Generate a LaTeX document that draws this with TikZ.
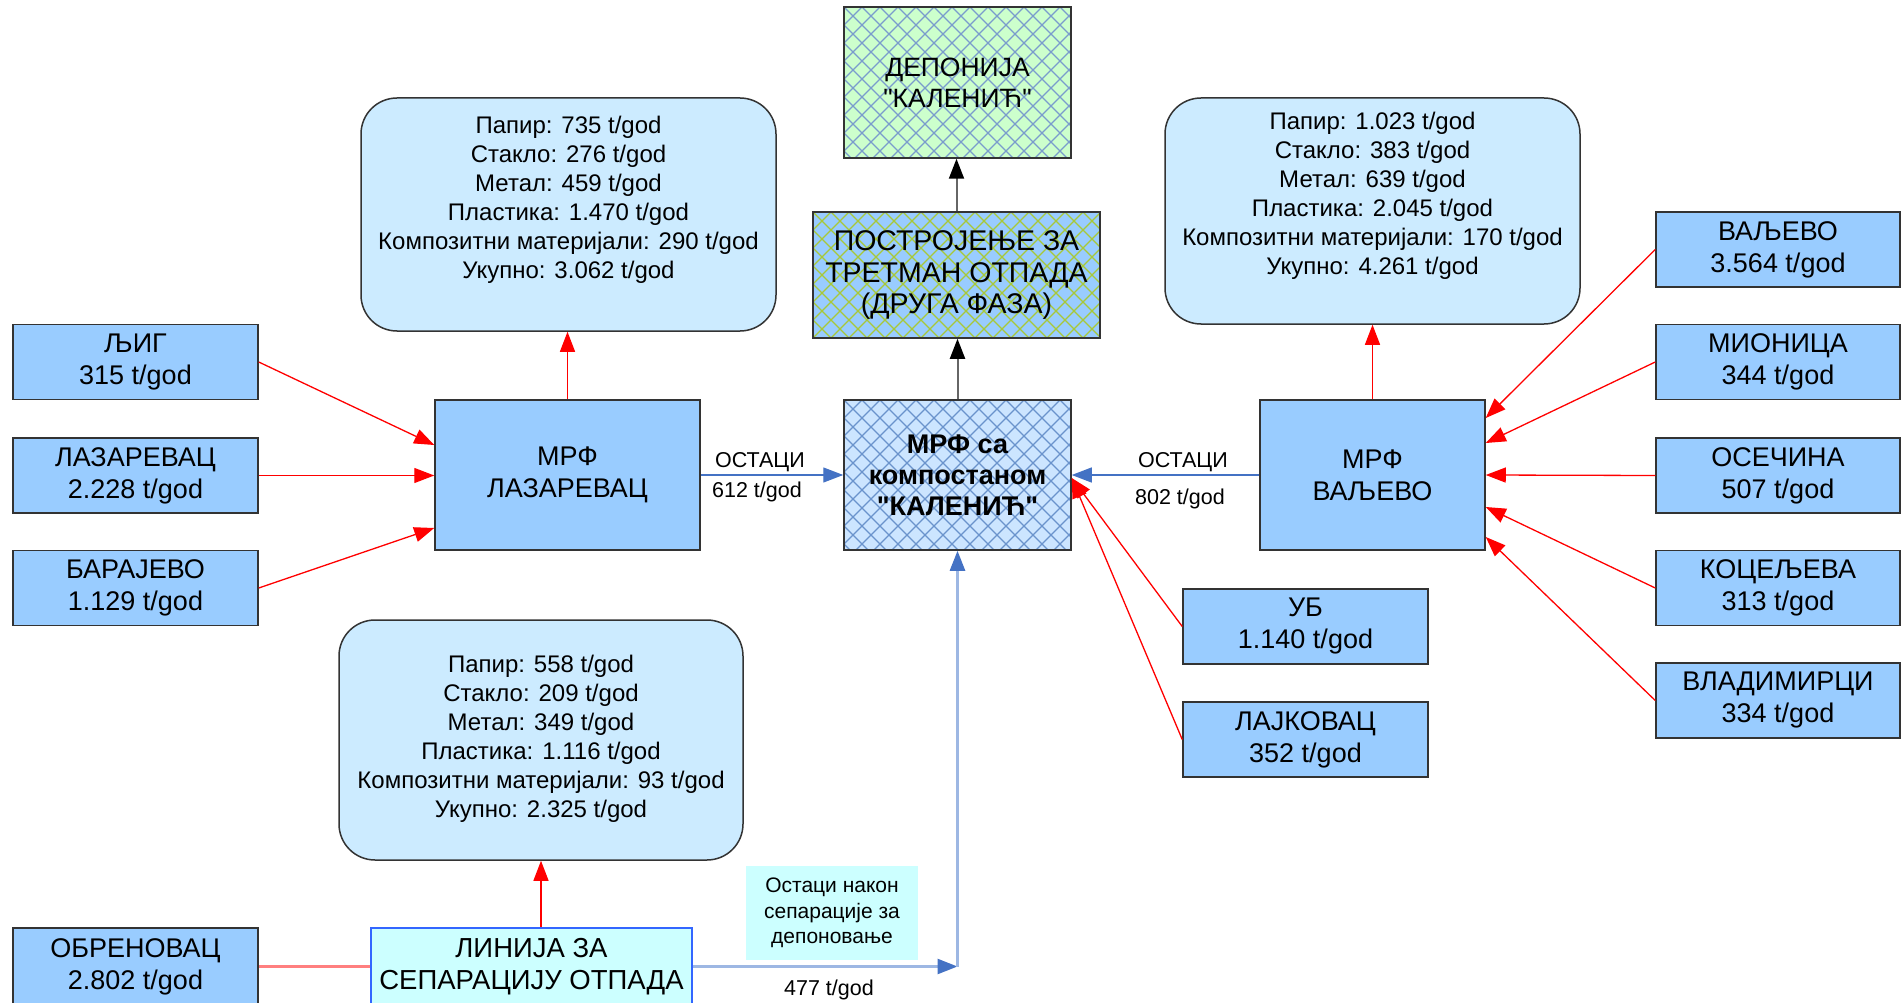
\documentclass[tikz,border=0pt]{standalone}
\usepackage{fontspec}
\setmainfont{Liberation Sans}[Ligatures=TeXOff]
\usetikzlibrary{arrows.meta,calc}

\definecolor{cityblue}{HTML}{99CCFF}
\definecolor{roundfill}{HTML}{CCEBFF}
\definecolor{boxline}{HTML}{333333}
\definecolor{centerfill}{HTML}{CCE5FF}
\definecolor{centerhatch}{HTML}{6A93CC}
\definecolor{landfill}{HTML}{CCFFCC}
\definecolor{landhatch}{HTML}{7A9CCC}
\definecolor{planthatch}{HTML}{A8C838}
\definecolor{linefill}{HTML}{CCFFFF}
\definecolor{lineborder}{HTML}{3366FF}
\definecolor{flowblue}{HTML}{4472C4}
\definecolor{paleblue}{HTML}{9DB7E3}
\definecolor{palered}{HTML}{FF7F7F}

\tikzset{
  city/.style={draw=boxline, line width=1.5pt, fill=cityblue, minimum width=245pt,
    minimum height=75pt, inner sep=0pt, align=center, font=\fontsize{27}{32}\selectfont},
  mrf/.style={city, minimum width=#1, minimum height=150pt},
  roundbox/.style={draw=boxline, line width=1.5pt, fill=roundfill, rounded corners=36pt,
    inner sep=0pt},
  stats/.style={align=center, inner sep=0pt, font=\fontsize{24}{29}\selectfont},
  hatch/.style={path picture={
    \foreach \i in {-12,...,28}{
      \draw[#1, line width=1.3pt] ([xshift=\i*18pt]path picture bounding box.north west) -- ++(300pt,-300pt);
      \draw[#1, line width=1.3pt] ([xshift=\i*18pt]path picture bounding box.north west) -- ++(-300pt,-300pt);
    }}},
  flowlabel/.style={inner sep=0pt, anchor=base, font=\fontsize{21.5}{25}\selectfont},
  tip/.style={-{Triangle[length=20pt,width=15pt,#1]}},
  redarrow/.style={draw=red, line width=1.3pt, tip={color=red}},
  bluearrow/.style={draw=flowblue, line width=1.3pt, tip={color=flowblue}},
  palearrow/.style={draw=paleblue, line width=2.5pt, tip={color=flowblue}},
  grayarrow/.style={draw=black!60, line width=2pt, tip={color=black}},
}

\begin{document}
\begin{tikzpicture}[x=1pt,y=-1pt]
\useasboundingbox (0,0) rectangle (1901,1003);

% central facilities
\node[draw=boxline, line width=1.5pt, fill=landfill, hatch=landhatch, minimum width=227pt,
  minimum height=151pt, inner sep=0pt, align=center, font=\fontsize{26.5}{31}\selectfont]
  (dep) at (957.5,82.5) {ДЕПОНИЈА\\"КАЛЕНИЋ"};
\node[draw=boxline, line width=1.5pt, fill=cityblue, hatch=planthatch, minimum width=287pt,
  minimum height=126pt, inner sep=0pt, align=center, font=\fontsize{28.5}{31.5}\selectfont]
  (post) at (956.5,275) {ПОСТРОЈЕЊЕ ЗА\\ТРЕТМАН ОТПАДА\\(ДРУГА ФАЗА)};
\node[draw=boxline, line width=1.5pt, fill=centerfill, hatch=centerhatch, minimum width=227pt,
  minimum height=150pt, inner sep=0pt, align=center, font=\bfseries\fontsize{27}{31}\selectfont]
  (cen) at (957.5,475) {МРФ са\\компостаном\\"КАЛЕНИЋ"};

% regional MRF plants
\node[mrf=265pt] (mrfL) at (567.5,475) {МРФ\\ЛАЗАРЕВАЦ};
\node[mrf=225pt] (mrfV) at (1372.5,475) {МРФ\\ВАЉЕВО};

% recovered materials
\node[roundbox, minimum width=415pt, minimum height=233pt] (boxTL) at (568.5,214.5) {};
\node[stats] (txtTL) at (568.5,200) {Папир: 735 t/god\\Стакло: 276 t/god\\Метал: 459 t/god\\Пластика: 1.470 t/god\\Композитни материјали: 290 t/god\\Укупно: 3.062 t/god};
\node[roundbox, minimum width=415pt, minimum height=226pt] (boxTR) at (1372.5,211) {};
\node[stats] (txtTR) at (1372.5,196) {Папир: 1.023 t/god\\Стакло: 383 t/god\\Метал: 639 t/god\\Пластика: 2.045 t/god\\Композитни материјали: 170 t/god\\Укупно: 4.261 t/god};
\node[roundbox, minimum width=404pt, minimum height=240pt] (boxB) at (541,740) {};
\node[stats] (txtB) at (541,739) {Папир: 558 t/god\\Стакло: 209 t/god\\Метал: 349 t/god\\Пластика: 1.116 t/god\\Композитни материјали: 93 t/god\\Укупно: 2.325 t/god};

% municipalities, west
\node[city] (ljig) at (135.5,362) {ЉИГ\\315 t/god};
\node[city] (lazar) at (135.5,475.5) {ЛАЗАРЕВАЦ\\2.228 t/god};
\node[city] (baraj) at (135.5,588) {БАРАЈЕВО\\1.129 t/god};
\node[city, minimum height=77pt] (obren) at (135.5,966.5) {ОБРЕНОВАЦ\\2.802 t/god};
\node[draw=lineborder, line width=2pt, fill=linefill, minimum width=321pt, minimum height=77pt,
  inner sep=0pt, align=center, font=\fontsize{27.5}{32}\selectfont]
  (linija) at (531.5,966.5) {ЛИНИЈА ЗА\\СЕПАРАЦИЈУ ОТПАДА};

% municipalities, east
\node[city, minimum width=244pt] (valj) at (1778,249.5) {ВАЉЕВО\\3.564 t/god};
\node[city, minimum width=244pt] (mion) at (1778,362) {МИОНИЦА\\344 t/god};
\node[city, minimum width=244pt] (osec) at (1778,475.5) {ОСЕЧИНА\\507 t/god};
\node[city, minimum width=244pt] (kocel) at (1778,588) {КОЦЕЉЕВА\\313 t/god};
\node[city, minimum width=244pt] (vlad) at (1778,700.5) {ВЛАДИМИРЦИ\\334 t/god};
\node[city] (ub) at (1305.5,626.5) {УБ\\1.140 t/god};
\node[city] (lajk) at (1305.5,739.5) {ЛАЈКОВАЦ\\352 t/god};

% note on residues
\node[fill=linefill, minimum width=172pt, minimum height=94pt, inner sep=0pt, align=center,
  font=\fontsize{21}{25.5}\selectfont] (note) at (832,913) {Остаци након\\сепарације за\\депоновање};

% flows into MRF Lazarevac
\draw[redarrow] (ljig.east) -- ([yshift=30pt]mrfL.west);
\draw[redarrow] (lazar.east) -- (lazar.east -| mrfL.west);
\draw[redarrow] (baraj.east) -- ([yshift=-53pt]mrfL.west);
\draw[redarrow] (mrfL.north) -- (mrfL.north |- boxTL.south);

% flows into MRF Valjevo
\draw[redarrow] (valj.west) -- ([yshift=57pt]mrfV.east);
\draw[redarrow] (mion.west) -- ([yshift=32pt]mrfV.east);
\draw[redarrow] (osec.west) -- (mrfV.east);
\draw[redarrow] (kocel.west) -- ([yshift=-32pt]mrfV.east);
\draw[redarrow] (vlad.west) -- ([yshift=-62pt]mrfV.east);
\draw[redarrow] (mrfV.north) -- (boxTR.south);

% direct flows into the central MRF
\draw[redarrow] (ub.west) -- ([yshift=-3pt]cen.east);
\draw[redarrow] (lajk.west) -- ([yshift=-3pt]cen.east);

% residues to the central MRF
\draw[bluearrow] (mrfL.east) -- (cen.west);
\draw[bluearrow] (mrfV.west) -- (cen.east);
\node[flowlabel] (resL) at (760,467) {ОСТАЦИ};
\node[flowlabel] (qtyL) at (757,497) {612 t/god};
\node[flowlabel] (resV) at (1183,467) {ОСТАЦИ};
\node[flowlabel] (qtyV) at (1180,504) {802 t/god};

% central MRF onwards
\draw[grayarrow] (cen.north) -- (cen.north |- post.south);
\draw[grayarrow] (post.north) -- (post.north |- dep.south);

% Obrenovac separation line
\draw[palered, line width=2.5pt] (obren.east) -- (linija.west);
\draw[redarrow] (linija.north -| boxB.south) -- (boxB.south);
\coordinate (bend) at (cen.south |- linija.east);
\draw[palearrow] (linija.east) -- (bend);
\draw[palearrow] (bend) -- (cen.south);
\node[flowlabel] (qtyB) at (829,995) {477 t/god};
\end{tikzpicture}
\end{document}
